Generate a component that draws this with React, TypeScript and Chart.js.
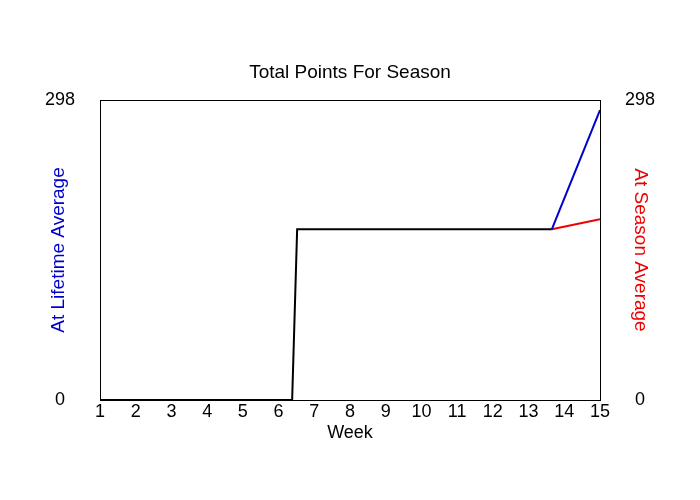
import React, { useEffect, useRef } from "react";
import { Chart, registerables } from "chart.js";

Chart.register(...registerables);

const title = "Total Points For Season";
const xTitle = "Week";
const leftTitle = "At Lifetime Average";
const rightTitle = "At Season Average";

const yMax = 298;
const yTicks = [0, 298];
const weekMin = 1;
const weekMax = 15;

const actualWeeks = [1, 6.38, 6.52, 13.65];
const actualPoints = [0, 0, 169.6, 169.6];

const projWeeks = [13.65, 15];
const lifetimeProj = [169.6, 288];
const seasonProj = [169.6, 179.5];

const FONT = "'Liberation Sans', Arial, sans-serif";

const framePlugin = {
  id: "frame",
  afterDatasetsDraw(chart: any) {
    const { ctx, chartArea } = chart;
    ctx.save();
    ctx.strokeStyle = "#000";
    ctx.lineWidth = 1;
    ctx.strokeRect(
      Math.round(chartArea.left) + 0.5,
      Math.round(chartArea.top) + 0.5,
      Math.round(chartArea.right - chartArea.left),
      Math.round(chartArea.bottom - chartArea.top)
    );
    ctx.restore();
  },
};

export default function App() {
  const ref = useRef<HTMLCanvasElement>(null);

  useEffect(() => {
    const pts = (xs: number[], ys: number[]) => xs.map((x, i) => ({ x, y: ys[i] }));
    const yTickFn = (scale: any) => {
      scale.ticks = yTicks.map((v) => ({ value: v }));
    };
    const chart = new Chart(ref.current!, {
      type: "line",
      data: {
        datasets: [
          {
            data: pts(projWeeks, lifetimeProj),
            borderColor: "#0000cc",
            borderWidth: 2,
            pointRadius: 0,
            yAxisID: "y",
          },
          {
            data: pts(projWeeks, seasonProj),
            borderColor: "#ee0000",
            borderWidth: 2,
            pointRadius: 0,
            yAxisID: "y2",
          },
          {
            data: pts(actualWeeks, actualPoints),
            borderColor: "#000000",
            borderWidth: 2,
            pointRadius: 0,
            yAxisID: "y",
          },
        ],
      },
      options: {
        responsive: false,
        animation: false,
        layout: { padding: 0 },
        plugins: {
          legend: { display: false },
          tooltip: { enabled: false },
          title: {
            display: true,
            text: title,
            color: "#000",
            font: { family: FONT, size: 19, weight: "normal" as any, lineHeight: 1.2 },
            padding: { top: 61.6, bottom: 15.6 },
          },
        },
        scales: {
          x: {
            type: "linear",
            min: weekMin,
            max: weekMax,
            grid: { display: false, drawTicks: false },
            border: { display: false },
            ticks: {
              stepSize: 1,
              padding: 1,
              color: "#000",
              font: { family: FONT, size: 18, lineHeight: 1.2 },
              maxRotation: 0,
              autoSkip: false,
            },
            title: {
              display: true,
              text: xTitle,
              color: "#000",
              font: { family: FONT, size: 18, lineHeight: 1.2 },
              padding: { top: 0, bottom: 56.5 },
            },
            afterFit: (s: any) => {
              s.height = 100;
            },
          },
          y: {
            type: "linear",
            position: "left",
            min: 0,
            max: yMax,
            grid: { display: false, drawTicks: false },
            border: { display: false },
            afterBuildTicks: yTickFn,
            ticks: {
              padding: 25,
              crossAlign: "center",
              color: "#000",
              font: { family: FONT, size: 18, lineHeight: 1.2 },
            },
            title: {
              display: true,
              text: leftTitle,
              color: "#0000cc",
              font: { family: FONT, size: 19, lineHeight: 1.2 },
              padding: { top: 47, bottom: 0 },
            },
            afterFit: (s: any) => {
              s.width = 100;
            },
          },
          y2: {
            type: "linear",
            position: "right",
            min: 0,
            max: yMax,
            grid: { display: false, drawTicks: false },
            border: { display: false },
            afterBuildTicks: yTickFn,
            ticks: {
              padding: 25,
              crossAlign: "center",
              color: "#000",
              font: { family: FONT, size: 18, lineHeight: 1.2 },
            },
            title: {
              display: true,
              text: rightTitle,
              color: "#ee0000",
              font: { family: FONT, size: 19, lineHeight: 1.2 },
              padding: { top: 48.6, bottom: 0 },
            },
            afterFit: (s: any) => {
              s.width = 100;
            },
          },
        },
      },
      plugins: [framePlugin],
    });
    return () => chart.destroy();
  }, []);

  return (
    <div style={{ position: "absolute", left: 0, top: 0, width: 700, height: 500, background: "#fff" }}>
      <canvas ref={ref} width={700} height={500} />
    </div>
  );
}
